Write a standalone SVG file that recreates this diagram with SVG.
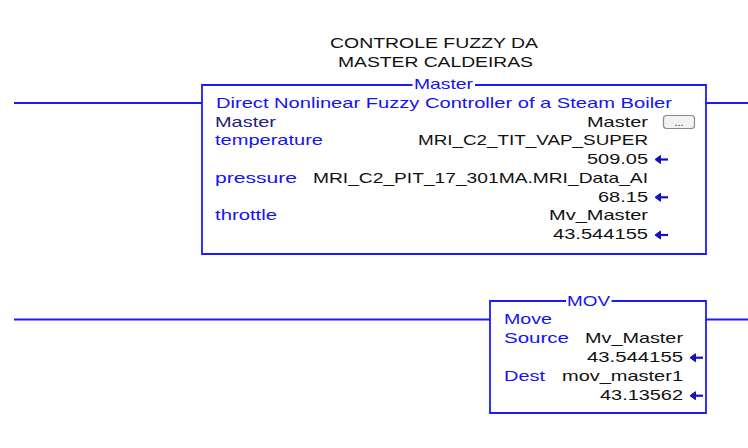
<svg xmlns="http://www.w3.org/2000/svg" width="748" height="448" viewBox="0 0 748 448">
<style>
text{font-family:"Liberation Sans",Arial,sans-serif;font-size:14.5px}
.b{fill:#1414f0}
.k{fill:#111}
.n{fill:#22227a}
.v{fill:#111;text-anchor:end}
.ln{stroke:#1a1aff;stroke-width:1.8;fill:none}
.ar{fill:#1010c0;stroke:#1010c0}
</style>
<defs>
<g id="arr"><path d="M3,0 H13" stroke-width="2.2"/><path d="M0,0 L5.5,-4 L5.5,4 Z" stroke-width="1"/></g>
</defs>
<g id="connectors">
<path class="ln" d="M14,103 H202 M706,103 H748"/>
<path class="ln" d="M14,319.5 H490 M706,319.5 H748"/>
</g>
<g id="comment">
<text class="k" x="434" y="48" text-anchor="middle" textLength="208" lengthAdjust="spacingAndGlyphs">CONTROLE FUZZY DA</text>
<text class="k" x="435.5" y="67" text-anchor="middle" textLength="195" lengthAdjust="spacingAndGlyphs">MASTER CALDEIRAS</text>
</g>
<g id="master">
<path class="ln" d="M412.5,85 H202 V254 H706 V85 H475"/>
<text class="b" x="414" y="89" textLength="59" lengthAdjust="spacingAndGlyphs">Master</text>
<text class="b" x="216" y="107.5" textLength="456" lengthAdjust="spacingAndGlyphs">Direct Nonlinear Fuzzy Controller of a Steam Boiler</text>
<text class="n" x="215" y="126.5" textLength="61" lengthAdjust="spacingAndGlyphs">Master</text>
<text class="v" x="648" y="126.5" textLength="61" lengthAdjust="spacingAndGlyphs">Master</text>
<rect x="663.5" y="115.5" width="31" height="13" rx="3" fill="#f2f2f2" stroke="#8a8a8a" stroke-width="1.2"/>
<text x="679" y="126" text-anchor="middle" style="font-size:11px" fill="#333">...</text>
<text class="b" x="215" y="145.3" textLength="108" lengthAdjust="spacingAndGlyphs">temperature</text>
<text class="v" x="648" y="145.3" textLength="230" lengthAdjust="spacingAndGlyphs">MRI_C2_TIT_VAP_SUPER</text>
<text class="v" x="648" y="164" textLength="61" lengthAdjust="spacingAndGlyphs">509.05</text>
<use href="#arr" class="ar" x="655" y="159.5"/>
<text class="b" x="215" y="182.8" textLength="82" lengthAdjust="spacingAndGlyphs">pressure</text>
<text class="v" x="648" y="182.8" textLength="335" lengthAdjust="spacingAndGlyphs">MRI_C2_PIT_17_301MA.MRI_Data_AI</text>
<text class="v" x="648" y="201.6" textLength="50" lengthAdjust="spacingAndGlyphs">68.15</text>
<use href="#arr" class="ar" x="655" y="197.3"/>
<text class="b" x="215" y="220.4" textLength="62" lengthAdjust="spacingAndGlyphs">throttle</text>
<text class="v" x="648" y="220.4" textLength="99" lengthAdjust="spacingAndGlyphs">Mv_Master</text>
<text class="v" x="648" y="239.2" textLength="95" lengthAdjust="spacingAndGlyphs">43.544155</text>
<use href="#arr" class="ar" x="655" y="235"/>
</g>
<g id="mov">
<path class="ln" d="M566,301 H490 V413 H706 V301 H611.5"/>
<text class="b" x="567" y="305.5" textLength="43" lengthAdjust="spacingAndGlyphs">MOV</text>
<text class="b" x="504" y="324.3" textLength="48" lengthAdjust="spacingAndGlyphs">Move</text>
<text class="b" x="504" y="343.3" textLength="65" lengthAdjust="spacingAndGlyphs">Source</text>
<text class="v" x="683" y="343.3" textLength="98" lengthAdjust="spacingAndGlyphs">Mv_Master</text>
<text class="v" x="683" y="362" textLength="96" lengthAdjust="spacingAndGlyphs">43.544155</text>
<use href="#arr" class="ar" x="690" y="357.7"/>
<text class="b" x="504" y="381" textLength="41" lengthAdjust="spacingAndGlyphs">Dest</text>
<text class="v" x="683" y="381" textLength="121" lengthAdjust="spacingAndGlyphs">mov_master1</text>
<text class="v" x="683" y="400" textLength="83" lengthAdjust="spacingAndGlyphs">43.13562</text>
<use href="#arr" class="ar" x="690" y="395.7"/>
</g>
</svg>
